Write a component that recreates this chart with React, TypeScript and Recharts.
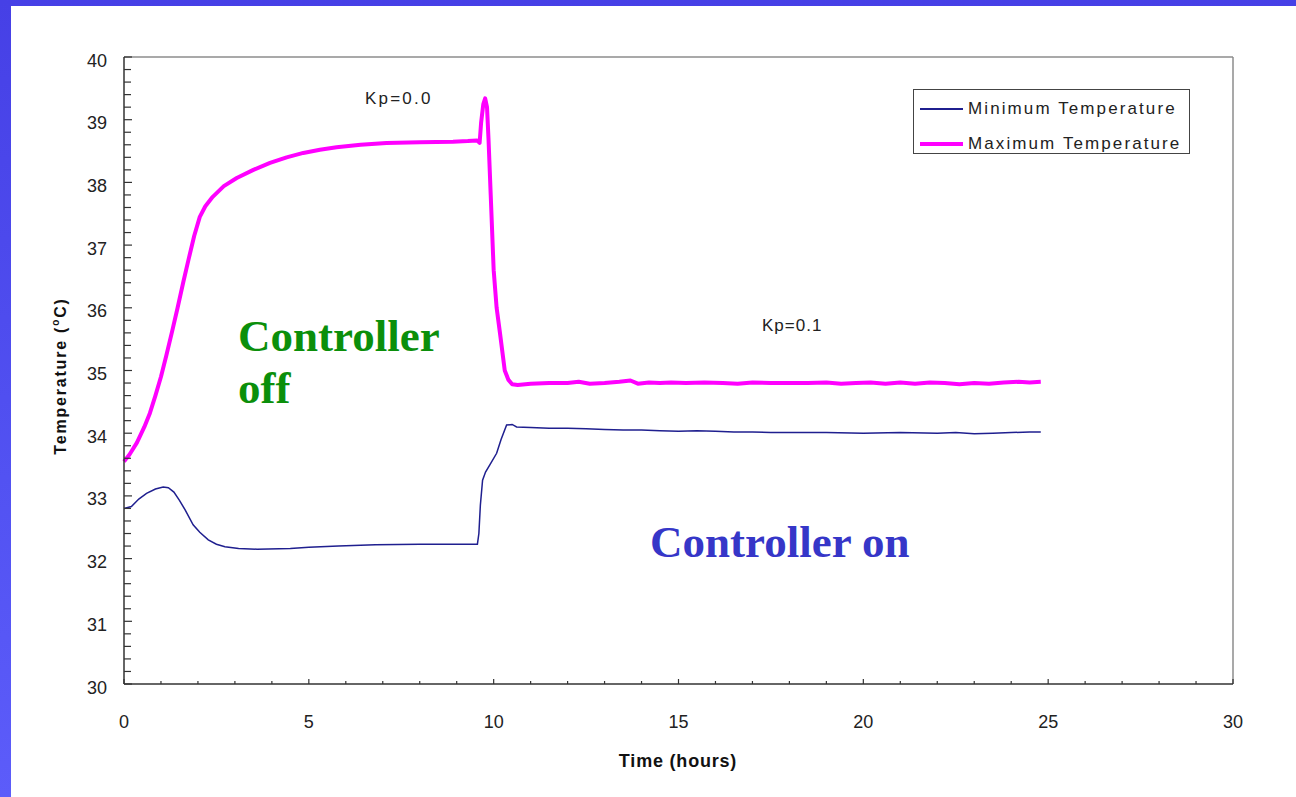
import React from 'react';
import { LineChart, Line, XAxis, YAxis, ReferenceLine } from 'recharts';

// readings taken off the plot: t = time in hours, v = temperature in °C
const maxTemp = [
  { t: 0, v: 33.55 }, { t: 0.15, v: 33.66 }, { t: 0.35, v: 33.85 }, { t: 0.55, v: 34.1 },
  { t: 0.7, v: 34.32 }, { t: 0.85, v: 34.6 }, { t: 1.0, v: 34.9 }, { t: 1.15, v: 35.25 },
  { t: 1.3, v: 35.62 }, { t: 1.45, v: 36.0 }, { t: 1.6, v: 36.4 }, { t: 1.75, v: 36.78 },
  { t: 1.9, v: 37.15 }, { t: 2.05, v: 37.45 }, { t: 2.2, v: 37.62 }, { t: 2.4, v: 37.77 },
  { t: 2.7, v: 37.94 }, { t: 3.05, v: 38.07 }, { t: 3.5, v: 38.2 }, { t: 3.95, v: 38.31 },
  { t: 4.4, v: 38.4 }, { t: 4.85, v: 38.47 }, { t: 5.3, v: 38.52 }, { t: 5.75, v: 38.56 },
  { t: 6.4, v: 38.6 }, { t: 7.1, v: 38.63 }, { t: 8.0, v: 38.64 }, { t: 8.9, v: 38.65 },
  { t: 9.3, v: 38.66 }, { t: 9.55, v: 38.67 }, { t: 9.62, v: 38.63 }, { t: 9.66, v: 38.95 },
  { t: 9.72, v: 39.25 }, { t: 9.77, v: 39.34 }, { t: 9.82, v: 39.2 }, { t: 9.86, v: 38.7 },
  { t: 9.92, v: 37.8 }, { t: 10.0, v: 36.6 }, { t: 10.08, v: 36.0 }, { t: 10.17, v: 35.6 },
  { t: 10.3, v: 35.0 }, { t: 10.4, v: 34.85 }, { t: 10.5, v: 34.78 }, { t: 10.65, v: 34.77 },
  { t: 11.0, v: 34.79 }, { t: 11.5, v: 34.8 }, { t: 12.0, v: 34.8 }, { t: 12.3, v: 34.82 },
  { t: 12.6, v: 34.79 }, { t: 13.0, v: 34.8 }, { t: 13.4, v: 34.82 }, { t: 13.7, v: 34.84 },
  { t: 13.9, v: 34.79 }, { t: 14.2, v: 34.81 }, { t: 14.5, v: 34.8 }, { t: 14.8, v: 34.81 },
  { t: 15.2, v: 34.8 }, { t: 15.7, v: 34.81 }, { t: 16.2, v: 34.8 }, { t: 16.6, v: 34.79 },
  { t: 17.0, v: 34.81 }, { t: 17.5, v: 34.8 }, { t: 18.0, v: 34.8 }, { t: 18.5, v: 34.8 },
  { t: 19.0, v: 34.81 }, { t: 19.4, v: 34.79 }, { t: 19.8, v: 34.8 }, { t: 20.2, v: 34.81 },
  { t: 20.6, v: 34.79 }, { t: 21.0, v: 34.81 }, { t: 21.4, v: 34.79 }, { t: 21.8, v: 34.81 },
  { t: 22.2, v: 34.8 }, { t: 22.6, v: 34.78 }, { t: 23.0, v: 34.8 }, { t: 23.4, v: 34.79 },
  { t: 23.8, v: 34.81 }, { t: 24.2, v: 34.82 }, { t: 24.5, v: 34.81 }, { t: 24.8, v: 34.82 },
];

const minTemp = [
  { t: 0, v: 32.8 }, { t: 0.2, v: 32.83 }, { t: 0.4, v: 32.95 }, { t: 0.61, v: 33.04 },
  { t: 0.85, v: 33.11 }, { t: 1.06, v: 33.14 }, { t: 1.2, v: 33.13 }, { t: 1.35, v: 33.06 },
  { t: 1.5, v: 32.93 }, { t: 1.65, v: 32.78 }, { t: 1.87, v: 32.54 }, { t: 2.05, v: 32.42 },
  { t: 2.28, v: 32.3 }, { t: 2.5, v: 32.23 }, { t: 2.73, v: 32.19 }, { t: 3.1, v: 32.16 },
  { t: 3.6, v: 32.15 }, { t: 4.5, v: 32.16 }, { t: 5.0, v: 32.18 }, { t: 5.8, v: 32.2 },
  { t: 6.8, v: 32.22 }, { t: 8.0, v: 32.23 }, { t: 9.0, v: 32.23 }, { t: 9.56, v: 32.23 },
  { t: 9.6, v: 32.4 }, { t: 9.64, v: 32.85 }, { t: 9.7, v: 33.25 }, { t: 9.78, v: 33.38 },
  { t: 9.9, v: 33.5 }, { t: 10.08, v: 33.68 }, { t: 10.2, v: 33.9 }, { t: 10.35, v: 34.13 },
  { t: 10.5, v: 34.14 }, { t: 10.62, v: 34.1 }, { t: 11.0, v: 34.09 }, { t: 11.5, v: 34.08 },
  { t: 12.0, v: 34.08 }, { t: 12.5, v: 34.07 }, { t: 13.0, v: 34.06 }, { t: 13.5, v: 34.05 },
  { t: 14.0, v: 34.05 }, { t: 14.5, v: 34.04 }, { t: 15.0, v: 34.03 }, { t: 15.5, v: 34.04 },
  { t: 16.0, v: 34.03 }, { t: 16.5, v: 34.02 }, { t: 17.0, v: 34.02 }, { t: 17.5, v: 34.01 },
  { t: 18.0, v: 34.01 }, { t: 19.0, v: 34.01 }, { t: 20.0, v: 34.0 }, { t: 21.0, v: 34.01 },
  { t: 22.0, v: 34.0 }, { t: 22.5, v: 34.01 }, { t: 23.0, v: 33.99 }, { t: 23.5, v: 34.0 },
  { t: 24.0, v: 34.01 }, { t: 24.5, v: 34.02 }, { t: 24.8, v: 34.02 },
];

const xMajorTicks = [0, 5, 10, 15, 20, 25, 30];
const yMajorTicks = [30, 31, 32, 33, 34, 35, 36, 37, 38, 39, 40];

// minor ticks: every hour on x, every 0.2 °C on y
const xTicks = Array.from({ length: 31 }, (_, i) => i);
const yTicks = Array.from({ length: 51 }, (_, i) => Math.round((30 + i * 0.2) * 10) / 10);

const series = [
  { name: 'Minimum Temperature', color: '#1f1f8f', width: 1.5 },
  { name: 'Maximum Temperature', color: '#ff00ff', width: 4 },
];

const tickFont = { fontFamily: '"Liberation Sans", Arial, sans-serif', fontSize: 18, fill: '#222' };

const XTick = ({ x, y, payload }: any) => {
  const major = xMajorTicks.includes(payload.value);
  return (
    <g>
      <line x1={x} x2={x} y1={y} y2={y - (major ? 5 : 3)} stroke="#333" strokeWidth={1.2} />
      {major && (
        <text x={x} y={y + 44} textAnchor="middle" {...tickFont}>
          {payload.value}
        </text>
      )}
    </g>
  );
};

const YTick = ({ x, y, payload }: any) => {
  const major = yMajorTicks.includes(payload.value);
  return (
    <g>
      <line x1={x} x2={x + (major ? 8 : 7)} y1={y} y2={y} stroke="#333" strokeWidth={1.2} />
      {major && (
        <text x={x - 17} y={y + 9.5} textAnchor="end" {...tickFont}>
          {payload.value}
        </text>
      )}
    </g>
  );
};

const sans = '"Liberation Sans", Arial, sans-serif';
const serif = '"Liberation Serif", "Times New Roman", serif';

export default function App() {
  return (
    <div
      style={{
        position: 'fixed',
        left: 0,
        top: 0,
        width: 1296,
        height: 797,
        background: 'linear-gradient(180deg, #4640e6 0%, #5252f2 60%, #5c5cfa 100%)',
        overflow: 'hidden',
      }}
    >
      <div style={{ position: 'absolute', left: 11, top: 6, right: 0, bottom: 0, background: '#fff' }} />
      <div style={{ position: 'absolute', left: 0, top: 0 }}>
        <LineChart width={1296} height={797} margin={{ top: 57, right: 63, left: 64, bottom: 63 }}>
          <XAxis
            type="number"
            dataKey="t"
            domain={[0, 30]}
            ticks={xTicks}
            interval={0}
            tick={<XTick />}
            tickLine={false}
            tickSize={0}
            tickMargin={0}
            height={50}
            axisLine={{ stroke: '#333', strokeWidth: 1.5 }}
            allowDecimals
          />
          <YAxis
            type="number"
            domain={[30, 40]}
            ticks={yTicks}
            interval={0}
            tick={<YTick />}
            tickLine={false}
            tickSize={0}
            tickMargin={0}
            width={60}
            axisLine={{ stroke: '#333', strokeWidth: 1.5 }}
          />
          <ReferenceLine y={40} stroke="#8c8c8c" strokeWidth={1.5} />
          <ReferenceLine x={30} stroke="#8c8c8c" strokeWidth={1.5} />
          <Line
            data={minTemp}
            dataKey="v"
            name={series[0].name}
            type="linear"
            stroke={series[0].color}
            strokeWidth={series[0].width}
            dot={false}
            isAnimationActive={false}
          />
          <Line
            data={maxTemp}
            dataKey="v"
            name={series[1].name}
            type="linear"
            stroke={series[1].color}
            strokeWidth={series[1].width}
            strokeLinejoin="round"
            dot={false}
            isAnimationActive={false}
          />
        </LineChart>
      </div>

      {/* axis titles */}
      <div
        style={{
          position: 'absolute',
          left: 60,
          top: 376,
          transform: 'translate(-50%, -50%) rotate(-90deg)',
          whiteSpace: 'nowrap',
          fontFamily: sans,
          fontWeight: 700,
          fontSize: 16,
          letterSpacing: 1.8,
          color: '#111',
        }}
      >
        Temperature (<sup style={{ fontSize: 10 }}>o</sup>C)
      </div>
      <div
        style={{
          position: 'absolute',
          left: 678,
          top: 761,
          transform: 'translate(-50%, -50%)',
          whiteSpace: 'nowrap',
          fontFamily: sans,
          fontWeight: 700,
          fontSize: 18,
          letterSpacing: 0.8,
          color: '#111',
        }}
      >
        Time (hours)
      </div>

      {/* legend */}
      <div
        style={{
          position: 'absolute',
          left: 913,
          top: 89,
          width: 277,
          height: 65,
          border: '1px solid #444',
          boxSizing: 'border-box',
          background: '#fff',
        }}
      >
        {series.map((s, i) => (
          <div
            key={s.name}
            style={{ position: 'absolute', left: 6, top: 9 + i * 35, display: 'flex', alignItems: 'center', height: 20 }}
          >
            <div style={{ width: 43, height: s.width, background: s.color }} />
            <span
              style={{ marginLeft: 5, fontFamily: sans, fontSize: 17, letterSpacing: 2.1, color: '#222', whiteSpace: 'nowrap' }}
            >
              {s.name}
            </span>
          </div>
        ))}
      </div>

      {/* annotations */}
      <div style={{ position: 'absolute', left: 365, top: 89, fontFamily: sans, fontSize: 17, letterSpacing: 2.2, color: '#222' }}>
        Kp=0.0
      </div>
      <div style={{ position: 'absolute', left: 762, top: 316, fontFamily: sans, fontSize: 17, letterSpacing: 1.0, color: '#222' }}>
        Kp=0.1
      </div>
      <div
        style={{
          position: 'absolute',
          left: 238,
          top: 310,
          fontFamily: serif,
          fontWeight: 700,
          fontSize: 45,
          lineHeight: '52px',
          color: '#0b8f0b',
        }}
      >
        Controller
        <br />
        off
      </div>
      <div
        style={{
          position: 'absolute',
          left: 650,
          top: 516,
          fontFamily: serif,
          fontWeight: 700,
          fontSize: 45,
          lineHeight: '52px',
          color: '#3636c8',
          whiteSpace: 'nowrap',
        }}
      >
        Controller on
      </div>
    </div>
  );
}
